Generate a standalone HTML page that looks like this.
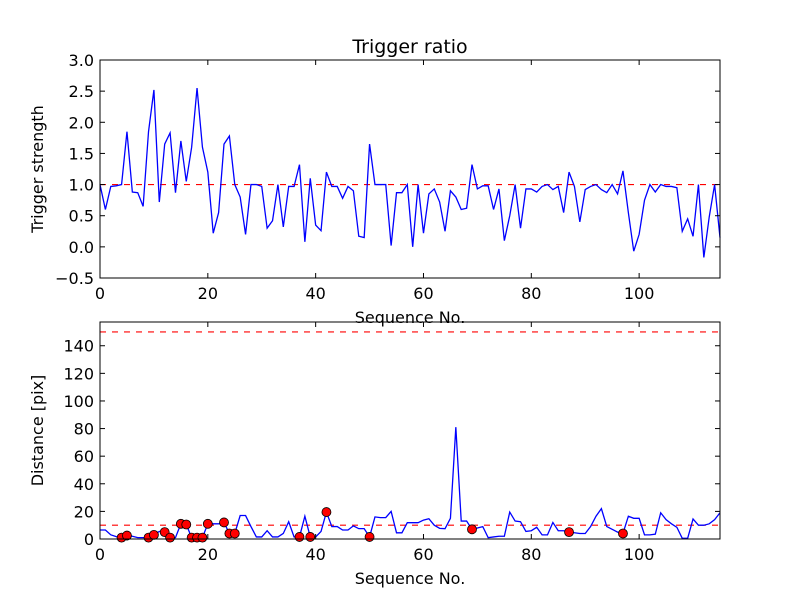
<!DOCTYPE html>
<html><head><meta charset="utf-8"><style>body{margin:0;background:#fff}svg{display:block}text{font-family:"DejaVu Sans","Liberation Sans",sans-serif;fill:#000}</style></head>
<body>
<svg id="fig" width="800" height="600" xmlns="http://www.w3.org/2000/svg"></svg>
<script>
const topValues=[1.0,0.6,0.97,0.98,1.0,1.85,0.88,0.87,0.65,1.85,2.52,0.72,1.65,1.83,0.87,1.7,1.05,1.6,2.55,1.6,1.2,0.22,0.55,1.65,1.78,1.0,0.8,0.2,1.0,1.0,0.97,0.3,0.42,1.0,0.32,0.97,0.97,1.32,0.08,1.1,0.35,0.26,1.2,0.97,0.97,0.78,0.97,0.9,0.17,0.15,1.65,1.0,1.0,1.0,0.02,0.87,0.87,1.0,0.0,1.0,0.22,0.85,0.93,0.72,0.25,0.9,0.8,0.6,0.62,1.32,0.93,0.98,0.98,0.6,0.93,0.1,0.5,1.0,0.3,0.93,0.93,0.88,0.97,1.0,0.92,0.97,0.55,1.2,0.97,0.4,0.92,0.97,1.0,0.92,0.87,1.0,0.85,1.22,0.55,-0.07,0.2,0.75,1.0,0.88,1.0,0.97,0.97,0.95,0.25,0.45,0.17,1.0,-0.17,0.48,1.0,0.15];
const distValues=[6.5,6.5,3,1.7,1,2.5,2,1,1,1,3,5.5,5,1,1,11,10.5,1,1,1,11,11,11,12,4,4,17,17,9,1.5,1.5,6,1.5,1.5,4,12.5,1.5,1.5,16.5,1.5,1.5,5.5,19.5,9,9,6.5,6.5,9.5,7.5,7.5,1.5,16,15.5,15.5,20,4.5,4.5,11.8,11.8,11.8,13.7,14.7,10,7.7,7.5,15,81,13,13,7,8,9,1,1.5,2,2,19.5,13,12.5,5.5,6,8.5,3,3,12,6,6,5,4.5,4,4,9,16.5,22,9,7,5,4,16.5,15,15,3,3,3.5,19,14,11,8.5,0.5,0.5,14.5,10,10,11,14,19];
const dotIndices=[4,5,9,10,12,13,15,16,17,18,19,20,23,24,25,37,39,42,50,69,87,97];
const xTicks=[0,20,40,60,80,100];
const topTicks=[-0.5,0,0.5,1.0,1.5,2.0,2.5,3.0];
const botTicks=[0,20,40,60,80,100,120,140];
const topThreshold=[1.0];
const botThresholds=[10,150];

const NS="http://www.w3.org/2000/svg",svg=document.getElementById('fig');
function el(t,a,p){const e=document.createElementNS(NS,t);for(const k in a)e.setAttribute(k,a[k]);(p||svg).appendChild(e);return e;}
const L=100,R=720;
const xs=v=>L+(v-0)/(115-0)*(R-L);
const T={top:60,bot:278,min:-0.5,max:3.0};
const B={top:322,bot:539,min:0,max:157.2};
const ys=(ax,v)=>ax.bot-(v-ax.min)/(ax.max-ax.min)*(ax.bot-ax.top);

function axes(ax,name,values,thresholds){
  const g=el('g',{});
  
  
  el('rect',{x:L,y:ax.top,width:R-L,height:ax.bot-ax.top,fill:'#fff'},g);
  thresholds.forEach(t=>{const ln=el('line',{x1:L,x2:R,y1:ys(ax,t),y2:ys(ax,t),stroke:'#f00','stroke-width':1.2,'stroke-dasharray':'6,6'},g);
    });
  const pts=values.map((v,i)=>xs(i).toFixed(2)+','+ys(ax,v).toFixed(2)).join(' ');
  const pl=el('polyline',{points:pts,fill:'none',stroke:'#00f','stroke-width':1.3},g);
  
  return g;
}
function frame(ax,g,ticks,fmt,ylabel){
  el('rect',{x:L,y:ax.top,width:R-L,height:ax.bot-ax.top,fill:'none',stroke:'#000','stroke-width':1},g);
  xTicks.forEach(t=>{const x=xs(t);
    el('line',{x1:x,x2:x,y1:ax.bot,y2:ax.bot-5,stroke:'#000'},g);
    el('line',{x1:x,x2:x,y1:ax.top,y2:ax.top+5,stroke:'#000'},g);
    const tx=el('text',{x:x,y:ax.bot+21,'font-size':16,'text-anchor':'middle'},g);tx.textContent=t;
    });
  ticks.forEach(t=>{const y=ys(ax,t);
    el('line',{x1:L,x2:L+5,y1:y,y2:y,stroke:'#000'},g);
    el('line',{x1:R,x2:R-5,y1:y,y2:y,stroke:'#000'},g);
    const tx=el('text',{x:L-6,y:y+6,'font-size':16,'text-anchor':'end'},g);tx.textContent=fmt(t);
    });
  const xl=el('text',{x:(L+R)/2,y:ax.bot+45,'font-size':16,'text-anchor':'middle'},g);xl.textContent='Sequence No.';
  
  const cy=(ax.top+ax.bot)/2;
  const yl=el('text',{x:43,y:cy,'font-size':16,'text-anchor':'middle',transform:`rotate(-90 43 ${cy})`},g);yl.textContent=ylabel;
  
}
const g1=axes(T,'trigger-ratio-plot',topValues,topThreshold);
const g2=axes(B,'distance-plot',distValues,botThresholds);
dotIndices.forEach(i=>{const c=el('circle',{cx:xs(i),cy:ys(B,distValues[i]),r:4.5,fill:'#f00',stroke:'#000','stroke-width':0.8},g2);
  
  });
svg.appendChild(g1);
frame(B,g2,botTicks,t=>t,'Distance [pix]');
frame(T,g1,topTicks,t=>t.toFixed(1).replace('-','\u2212'),'Trigger strength');
const title=el('text',{x:410,y:53,'font-size':19,'text-anchor':'middle'});title.textContent='Trigger ratio';


</script>
</body></html>
